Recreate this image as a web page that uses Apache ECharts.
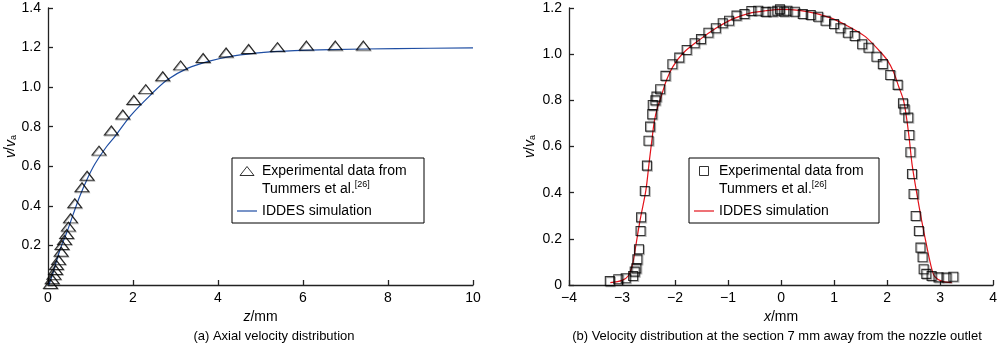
<!DOCTYPE html>
<html>
<head>
<meta charset="utf-8">
<script src="https://cdn.jsdelivr.net/npm/echarts@6/dist/echarts.min.js"></script>
<style>html,body{margin:0;padding:0;background:#fff}#c{width:1000px;height:345px}</style>
</head>
<body>
<div id="c"></div>
<script>
// (a) Axial velocity distribution — experimental triangles [z, v/va]
const axialExp = [
  [0.06,0.005],[0.10,0.029],[0.14,0.051],[0.18,0.076],[0.20,0.101],[0.25,0.126],
  [0.31,0.168],[0.33,0.202],[0.39,0.227],[0.44,0.258],[0.48,0.295],[0.53,0.337],
  [0.63,0.413],[0.80,0.494],[0.92,0.552],[1.20,0.679],[1.49,0.781],[1.76,0.862],
  [2.02,0.935],[2.30,0.990],[2.70,1.055],[3.12,1.110],[3.65,1.147],[4.19,1.175],
  [4.72,1.193],[5.40,1.202],[6.08,1.210],[6.76,1.210],[7.42,1.210]
];
// (a) IDDES simulation curve [z, v/va]
const axialSim = [
  [0.02,0.0],[0.10,0.05],[0.28,0.177],[0.45,0.27],[0.60,0.362],[0.75,0.45],
  [0.91,0.53],[1.10,0.61],[1.38,0.70],[1.59,0.755],[1.94,0.855],[2.41,0.96],
  [2.80,1.036],[3.28,1.095],[3.82,1.133],[4.37,1.158],[5.08,1.176],[5.80,1.185],
  [6.65,1.190],[8.20,1.195],[10.0,1.198]
];
// (b) Velocity at section 7 mm — experimental squares [x, v/va]
const radialExp = [
  [-3.23,0.017],[-3.07,0.025],[-2.93,0.029],[-2.79,0.039],[-2.76,0.058],[-2.73,0.072],
  [-2.71,0.111],[-2.68,0.155],[-2.65,0.234],[-2.64,0.293],[-2.57,0.407],[-2.53,0.517],
  [-2.50,0.625],[-2.47,0.686],[-2.43,0.739],[-2.42,0.780],[-2.37,0.800],[-2.35,0.816],
  [-2.28,0.848],[-2.18,0.906],[-2.05,0.956],[-1.92,0.985],[-1.78,1.018],[-1.63,1.047],
  [-1.51,1.065],[-1.37,1.093],[-1.23,1.112],[-1.10,1.134],[-0.98,1.145],[-0.84,1.167],
  [-0.69,1.174],[-0.56,1.187],[-0.43,1.188],[-0.29,1.183],[-0.16,1.184],[-0.07,1.188],
  [-0.02,1.194],[0.06,1.184],[0.12,1.188],[0.26,1.184],[0.41,1.174],[0.56,1.170],
  [0.70,1.162],[0.84,1.145],[1.00,1.131],[1.12,1.112],[1.26,1.093],[1.39,1.079],
  [1.53,1.043],[1.65,1.028],[1.80,0.989],[1.92,0.957],[2.06,0.910],[2.20,0.867],
  [2.30,0.787],[2.33,0.761],[2.40,0.725],[2.42,0.650],[2.44,0.575],[2.47,0.481],
  [2.50,0.394],[2.54,0.299],[2.60,0.234],[2.63,0.162],[2.67,0.120],[2.69,0.068],
  [2.74,0.048],[2.84,0.039],[2.97,0.033],[3.12,0.032],[3.25,0.036]
];
// (b) IDDES simulation curve [x, v/va]
const radialSim = [
  [-3.22,0.010],[-3.00,0.020],[-2.88,0.040],[-2.80,0.090],[-2.74,0.170],[-2.66,0.280],
  [-2.55,0.410],[-2.49,0.527],[-2.43,0.640],[-2.39,0.710],[-2.33,0.770],[-2.27,0.810],
  [-2.16,0.888],[-2.04,0.946],[-1.85,1.004],[-1.54,1.062],[-1.23,1.112],[-0.91,1.153],
  [-0.60,1.177],[-0.29,1.188],[0.01,1.194],[0.34,1.190],[0.65,1.177],[0.96,1.155],
  [1.28,1.119],[1.59,1.076],[1.84,1.018],[2.00,0.975],[2.12,0.924],[2.22,0.859],
  [2.31,0.800],[2.37,0.720],[2.42,0.630],[2.47,0.525],[2.56,0.397],[2.65,0.282],
  [2.75,0.166],[2.84,0.072],[2.90,0.036],[3.03,0.017],[3.22,0.010]
];
const axialXTicks = [0, 10, 2];     // min, max, interval
const axialYTicks = [0, 1.4, 0.2];
const radialXTicks = [-4, 4, 1];
const radialYTicks = [0, 1.2, 0.2];

const expName = 'Experimental data from\nTummers et al.{sup|[26]}';
const simName = 'IDDES simulation';
const captionA = '(a) Axial velocity distribution';
const captionB = '(b) Velocity distribution at the section 7 mm away from the nozzle outlet';

const FONT = "'Liberation Sans', Arial, Helvetica, sans-serif";
const axisLine = {show: true, onZero: false, lineStyle: {color: '#222', width: 1.3}};
const axisTick = {show: true, inside: true, length: 5, lineStyle: {color: '#222', width: 1.3}};
const lblStyle = {color: '#000', fontSize: 14, fontFamily: FONT};
const minus = v => String(v).replace('-', '\u2212');
const BLUE = '#1f4ea3', RED = '#e3131b';

const chart = echarts.init(document.getElementById('c'), null, {renderer: 'canvas'});
const legendText = {
  color: '#000', fontSize: 14, fontFamily: FONT, lineHeight: 18,
  rich: {sup: {fontSize: 9, lineHeight: 10, verticalAlign: 'top', fontFamily: FONT, color: '#000'}}
};
function legendFmt(n) { return n === 'expA' || n === 'expB' ? expName : simName; }
const lineIcon = 'path://M0,0L20,0L20,1.2L0,1.2Z';

chart.setOption({
  animation: false,
  textStyle: {fontFamily: FONT},
  grid: [
    {left: 48, right: 527, top: 8, bottom: 60},
    {left: 569, right: 4.5, top: 8, bottom: 60}
  ],
  title: [
    {text: captionA, left: 269, textAlign: 'center', top: 325,
     textStyle: {fontSize: 13, fontWeight: 'normal', color: '#000', fontFamily: FONT}},
    {text: captionB, left: 772, textAlign: 'center', top: 325,
     textStyle: {fontSize: 13, fontWeight: 'normal', color: '#000', fontFamily: FONT}}
  ],
  xAxis: [
    {type: 'value', gridIndex: 0, min: axialXTicks[0], max: axialXTicks[1], interval: axialXTicks[2],
     axisLine, axisTick, splitLine: {show: false},
     axisLabel: Object.assign({margin: 6}, lblStyle),
     name: '{i|z}/mm', nameLocation: 'middle', nameGap: 18,
     nameTextStyle: {color: '#000', fontSize: 14, fontFamily: FONT, rich: {i: {fontStyle: 'italic', fontSize: 14, fontFamily: FONT}}}},
    {type: 'value', gridIndex: 1, min: radialXTicks[0], max: radialXTicks[1], interval: radialXTicks[2],
     axisLine, axisTick, splitLine: {show: false},
     axisLabel: Object.assign({margin: 6, formatter: v => minus(v)}, lblStyle),
     name: '{i|x}/mm', nameLocation: 'middle', nameGap: 18,
     nameTextStyle: {color: '#000', fontSize: 14, fontFamily: FONT, rich: {i: {fontStyle: 'italic', fontSize: 14, fontFamily: FONT}}}}
  ],
  yAxis: [
    {type: 'value', gridIndex: 0, min: axialYTicks[0], max: axialYTicks[1], interval: axialYTicks[2],
     axisLine, axisTick, splitLine: {show: false},
     axisLabel: Object.assign({margin: 7, formatter: v => v === 0 ? '' : v.toFixed(1)}, lblStyle),
     name: '{i|v}/{i|v}{sub|a}', nameLocation: 'middle', nameGap: 30,
     nameTextStyle: {color: '#000', fontSize: 14, fontFamily: FONT,
       rich: {i: {fontStyle: 'italic', fontSize: 14, fontFamily: FONT}, sub: {fontSize: 9, verticalAlign: 'bottom', lineHeight: 12, fontFamily: FONT}}}},
    {type: 'value', gridIndex: 1, min: radialYTicks[0], max: radialYTicks[1], interval: radialYTicks[2],
     axisLine, axisTick, splitLine: {show: false},
     axisLabel: Object.assign({margin: 7, formatter: v => v === 0 ? '0' : v.toFixed(1)}, lblStyle),
     name: '{i|v}/{i|v}{sub|a}', nameLocation: 'middle', nameGap: 32,
     nameTextStyle: {color: '#000', fontSize: 14, fontFamily: FONT,
       rich: {i: {fontStyle: 'italic', fontSize: 14, fontFamily: FONT}, sub: {fontSize: 9, verticalAlign: 'bottom', lineHeight: 12, fontFamily: FONT}}}}
  ],
  legend: [
    {left: 232, top: 139, orient: 'vertical', padding: 5, itemGap: 4, itemWidth: 20, itemHeight: 9,
     formatter: legendFmt, textStyle: legendText, selectedMode: false,
     data: [{name: 'expA', icon: 'path://M7,0L14,9L0,9Z', textStyle: {padding: [18, 0, 0, 0]},
             itemStyle: {color: '#fff', borderColor: '#000', borderWidth: 1}},
            {name: 'simA', icon: lineIcon, itemStyle: {color: BLUE, borderWidth: 0}}]},
    {left: 689, top: 139, orient: 'vertical', padding: 5, itemGap: 4, itemWidth: 20, itemHeight: 9,
     formatter: legendFmt, textStyle: legendText, selectedMode: false,
     data: [{name: 'expB', icon: 'path://M0,0L9,0L9,9L0,9Z', textStyle: {padding: [18, 0, 0, 0]},
             itemStyle: {color: '#fff', borderColor: '#000', borderWidth: 1}},
            {name: 'simB', icon: lineIcon, itemStyle: {color: RED, borderWidth: 0}}]}
  ],
  graphic: [
    {type: 'rect', shape: {x: 232, y: 158, width: 192, height: 65}, style: {fill: 'none', stroke: '#000', lineWidth: 1}, z: 10},
    {type: 'rect', shape: {x: 689, y: 158, width: 190, height: 65}, style: {fill: 'none', stroke: '#000', lineWidth: 1}, z: 10}
  ],
  series: [
    {name: 'simA', type: 'line', xAxisIndex: 0, yAxisIndex: 0, data: axialSim, symbol: 'none', smooth: 0.3,
     lineStyle: {color: BLUE, width: 1.2}, itemStyle: {color: BLUE}, z: 2},
    {name: 'expA', type: 'scatter', xAxisIndex: 0, yAxisIndex: 0, data: axialExp,
     symbol: 'triangle', symbolSize: [14, 9],
     itemStyle: {color: 'rgba(255,255,255,0)', borderColor: '#000', borderWidth: 1.1,
                 shadowColor: 'rgba(0,0,0,0.35)', shadowOffsetX: 0.5, shadowOffsetY: 1}, z: 3},
    {name: 'simB', type: 'line', xAxisIndex: 1, yAxisIndex: 1, data: radialSim, symbol: 'none', smooth: 0.3,
     lineStyle: {color: RED, width: 1.2}, itemStyle: {color: RED}, z: 2},
    {name: 'expB', type: 'scatter', xAxisIndex: 1, yAxisIndex: 1, data: radialExp,
     symbol: 'rect', symbolSize: 9,
     itemStyle: {color: 'rgba(255,255,255,0)', borderColor: '#000', borderWidth: 1.1,
                 shadowColor: 'rgba(0,0,0,0.35)', shadowOffsetX: 1, shadowOffsetY: 1}, z: 3}
  ]
});
</script>
</body>
</html>
